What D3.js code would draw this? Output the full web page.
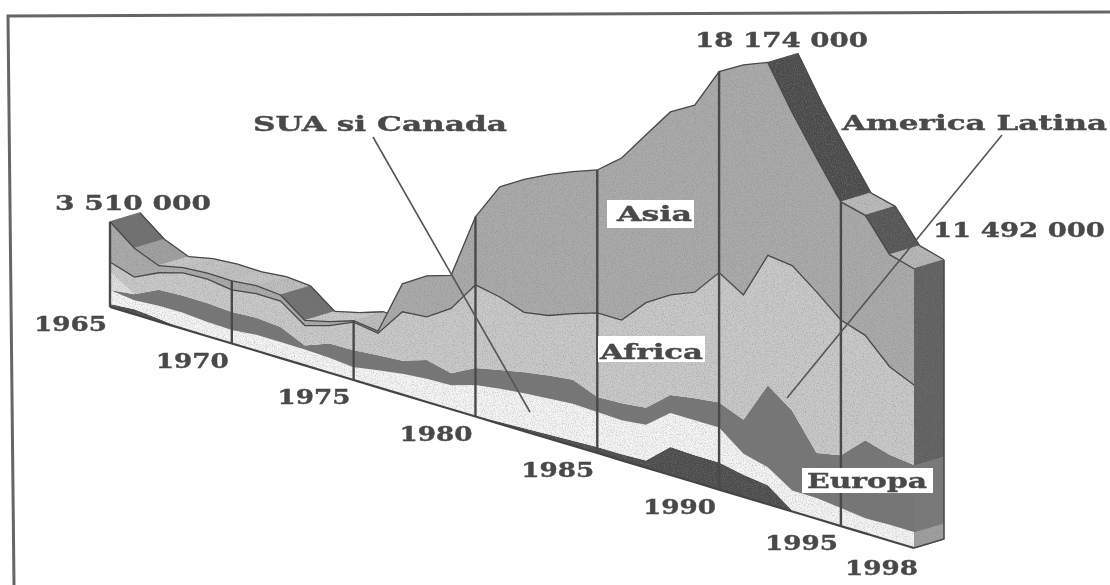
<!DOCTYPE html>
<html>
<head>
<meta charset="utf-8">
<script src="https://cdn.jsdelivr.net/npm/d3@7"></script>
<style>
  html, body { margin: 0; padding: 0; background: #fff; }
  text { font-family: "DejaVu Serif", serif; font-weight: bold; fill: #4a4a4a; stroke: #4a4a4a; stroke-width: 0.4; }
</style>
</head>
<body>
<svg width="1110" height="585"></svg>
<script>
// values are millions of people
var years = d3.range(1965, 1999);
var europa = [.12,.21,.12,0,0,0,0,0,0,0,0,0,0,0,0,0,.08,.12,.16,.21,.25,.25,.29,1.15,1.11,1.11,.91,.78,.04,0,0,0,0,0];
var sua = [.58,.37,.53,.66,.58,.56,.66,.66,.66,.62,.53,.70,.86,.95,.99,1.30,1.36,1.44,1.48,1.52,1.44,1.40,1.48,1.40,1.44,1.44,.86,.74,.82,.86,.74,.62,.66,.66];
var latina = [0,.25,.66,.70,.78,.74,.70,.62,.16,.58,.70,.62,.53,.78,.49,.70,.78,.86,.95,.99,.62,.70,.70,.74,.91,1.03,1.40,3.37,3.29,1.85,2.18,3.21,2.88,2.76];
var altele = [.74,0,0,0,0,0,0,0,0,0,0,0,0,0,0,0,0,0,0,0,0,0,0,0,0,0,0,0,0,0,0,0,0,0];
var africa = [.41,.70,.70,.95,.99,.91,.99,1.07,.82,.74,1.15,.91,2.02,1.77,2.67,3.42,3.00,2.47,2.47,2.72,3.46,3.42,4.32,4.12,4.36,5.35,5.14,5.35,5.97,6.63,5.56,4.32,3.62,3.29];
var asia = [1.66,1.19,.29,.21,.25,.37,.33,.25,.21,.16,.06,.08,1.15,1.69,1.36,2.80,4.53,5.47,5.80,5.84,5.88,6.67,6.91,7.53,7.70,8.27,9.47,7.94,6.30,5.51,4.86,4.94,4.61,4.78];
var layerNames = ["europa", "sua", "latina", "altele", "africa", "asia"];
var layerValues = [europa, sua, latina, altele, africa, asia];
var gridYears = [1965, 1970, 1975, 1980, 1985, 1990, 1995];
var tickYears = [1965, 1970, 1975, 1980, 1985, 1990, 1995, 1998];

var faceColor = d3.scaleOrdinal().domain(layerNames)
    .range(["#4c4c4c", "#f6f6f6", "#767676", "#e2e2e2", "#cacaca", "#ababab"]);
var wallColor = d3.scaleOrdinal().domain(layerNames)
    .range(["#5a5a5a", "#a0a0a0", "#797979", "#797979", "#606060", "#606060"]);

var svg = d3.select("svg");

// the speckle of the scan
var defs = svg.append("defs");
var speckle = defs.append("filter").attr("id", "speckle")
    .attr("x", 0).attr("y", 0).attr("width", 1).attr("height", 1);
speckle.append("feTurbulence").attr("type", "fractalNoise")
    .attr("baseFrequency", 0.9).attr("numOctaves", 2).attr("seed", 4).attr("result", "n");
speckle.append("feColorMatrix").attr("in", "n").attr("type", "matrix")
    .attr("values", "0 0 0 0 0.2  0 0 0 0 0.2  0 0 0 0 0.2  1.1 0 0 0 -0.45").attr("result", "g");
speckle.append("feComposite").attr("in", "g").attr("in2", "SourceAlpha").attr("operator", "in").attr("result", "c");
var merge = speckle.append("feMerge");
merge.append("feMergeNode").attr("in", "SourceGraphic");
merge.append("feMergeNode").attr("in", "c");
defs.append("filter").attr("id", "soft").append("feGaussianBlur").attr("stdDeviation", 0.45);

// frame, the scan is slightly crooked and has no right edge
svg.append("path")
    .attr("d", "M1110,12L8,16L14,585")
    .attr("fill", "none").attr("stroke", "#666").attr("stroke-width", 3);

// the floor runs down to the right, values stand up from it
var x = d3.scaleLinear().domain([1965, 1998]).range([110, 914]);
var floor = d3.scaleLinear().domain([1965, 1998]).range([307, 548]);
var h = d3.scaleLinear().domain([0, 1]).range([0, 24.3]);
var depth = {x: 30, y: -9};

var table = years.map(function(y, i) {
    var row = {year: y};
    layerNames.forEach(function(n, j) { row[n] = layerValues[j][i]; });
    return row;
});
var series = d3.stack().keys(layerNames)(table);
var total = series[series.length - 1];

function py(year, v) { return floor(year) - h(v); }
function drop(s) { return py(s[1].data.year, s[1][1]) - py(s[0].data.year, s[0][1]); }

var chart = svg.append("g").attr("filter", "url(#soft)");

// roof, darker where it falls steeply. rising stretches show no roof after 1976
var roofColor = d3.scaleLinear().domain([0, 14, 24, 44]).range(["#cccccc", "#bababa", "#747474", "#4a4a4a"]).clamp(true);
var segs = d3.pairs(total).filter(function(s) {
    return drop(s) >= 0 || s[0].data.year < 1976;
});
var roof = chart.append("g").attr("filter", "url(#speckle)");
roof.selectAll("path")
    .data(segs)
    .enter()
    .append("path")
    .attr("d", function(s) {
        var a = s[0], b = s[1];
        var ax = x(a.data.year), ay = py(a.data.year, a[1]);
        var bx = x(b.data.year), by = py(b.data.year, b[1]);
        return "M" + [ax, ay] + "L" + [bx, by] + "L" + [bx + depth.x, by + depth.y] + "L" + [ax + depth.x, ay + depth.y] + "Z";
    })
    .attr("fill", function(s) { return roofColor(drop(s)); })
    .attr("stroke", function(s) { return roofColor(drop(s)); })
    .attr("stroke-width", 1);

// outline of the back edge
chart.append("g").selectAll("line")
    .data(segs)
    .enter()
    .append("line")
    .attr("x1", function(s) { return x(s[0].data.year) + depth.x; })
    .attr("y1", function(s) { return py(s[0].data.year, s[0][1]) + depth.y; })
    .attr("x2", function(s) { return x(s[1].data.year) + depth.x; })
    .attr("y2", function(s) { return py(s[1].data.year, s[1][1]) + depth.y; })
    .attr("stroke", "#4a4a4a").attr("stroke-width", 1.3);

// right wall
var last = years.length - 1;
var wall = chart.append("g").attr("filter", "url(#speckle)");
wall.selectAll("path")
    .data(series)
    .enter()
    .append("path")
    .attr("d", function(s) {
        var d = s[last], y = d.data.year, X = x(y);
        return "M" + [X, py(y, d[0])] + "L" + [X, py(y, d[1])] +
            "L" + [X + depth.x, py(y, d[1]) + depth.y] + "L" + [X + depth.x, py(y, d[0]) + depth.y] + "Z";
    })
    .attr("fill", function(s) { return wallColor(s.key); })
    .attr("stroke", function(s) { return wallColor(s.key); });
var w0 = x(1998), w1 = py(1998, 0), w2 = py(1998, total[last][1]);
chart.append("path")
    .attr("d", "M" + [w0, w1] + "L" + [w0 + depth.x, w1 + depth.y] + "V" + (w2 + depth.y))
    .attr("fill", "none").attr("stroke", "#4a4a4a").attr("stroke-width", 1.6);

// front face
var area = d3.area()
    .x(function(d) { return x(d.data.year); })
    .y0(function(d) { return py(d.data.year, d[0]); })
    .y1(function(d) { return py(d.data.year, d[1]); });
var face = chart.append("g").attr("filter", "url(#speckle)");
face.selectAll("path")
    .data(series)
    .enter()
    .append("path")
    .attr("d", area)
    .attr("fill", function(d) { return faceColor(d.key); });

var topLine = d3.line()
    .x(function(d) { return x(d.data.year); })
    .y(function(d) { return py(d.data.year, d[1]); });
chart.selectAll(".edge")
    .data(series.filter(function(s) { return s.key == "africa" || s.key == "asia"; }))
    .enter()
    .append("path")
    .attr("class", "edge")
    .attr("d", topLine)
    .attr("fill", "none").attr("stroke", "#484848").attr("stroke-width", 1.3);

// floor
chart.append("path")
    .datum(total)
    .attr("d", d3.line()
        .x(function(d) { return x(d.data.year); })
        .y(function(d) { return py(d.data.year, 0); }))
    .attr("fill", "none").attr("stroke", "#444").attr("stroke-width", 2.2);

// year dividers
chart.selectAll(".divider")
    .data(gridYears)
    .enter()
    .append("line")
    .attr("class", "divider")
    .attr("x1", function(d) { return x(d); })
    .attr("x2", function(d) { return x(d); })
    .attr("y1", function(d) { return py(d, 0); })
    .attr("y2", function(d) { return py(d, total[d - 1965][1]); })
    .attr("stroke", "#4a4a4a").attr("stroke-width", 2.4);

// leader lines
var leaders = chart.append("g").attr("stroke", "#555").attr("stroke-width", 1.6);
leaders.append("line").attr("x1", 373).attr("y1", 137).attr("x2", 530).attr("y2", 412);
leaders.append("line").attr("x1", 1002).attr("y1", 135).attr("x2", 787).attr("y2", 398);

// year labels along the floor
var labels = svg.append("g").attr("filter", "url(#soft)");
function stretched(sel, txt, x0, x1, base) {
    return sel.append("text")
        .attr("x", x0).attr("y", base)
        .attr("font-size", 21)
        .attr("textLength", x1 - x0)
        .attr("lengthAdjust", "spacingAndGlyphs")
        .text(txt);
}
tickYears.forEach(function(y) {
    var end = x(y) - (y == 1998 ? -4 : 3);
    stretched(labels, y, end - 73, end, floor(y) + (y == 1998 ? 27 : 24));
});

// white boxes behind the region names
[[607, 200, 87, 28], [598, 336, 107, 26], [802, 468, 131, 25]].forEach(function(r) {
    labels.append("rect").attr("x", r[0]).attr("y", r[1]).attr("width", r[2]).attr("height", r[3]).attr("fill", "#fff");
});

stretched(labels, "3 510 000", 55, 211, 210);
stretched(labels, "18 174 000", 695, 868, 47);
stretched(labels, "11 492 000", 933, 1105, 237);
stretched(labels, "America Latina", 842, 1107, 130);
stretched(labels, "SUA si Canada", 253, 507, 131);
stretched(labels, "Asia", 617, 692, 221);
stretched(labels, "Africa", 600, 703, 359);
stretched(labels, "Europa", 807, 927, 488);
</script>
</body>
</html>
